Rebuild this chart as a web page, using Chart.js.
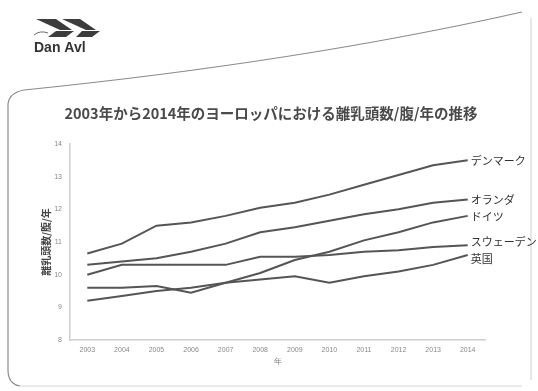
<!DOCTYPE html>
<html>
<head>
<meta charset="utf-8">
<script src="https://cdn.jsdelivr.net/npm/chart.js@4.4.1/dist/chart.umd.min.js"></script>
<style>
  html, body { margin: 0; padding: 0; background: #fff; }
  #wrap { width: 538px; height: 391px; position: relative; }
</style>
</head>
<body>
<div id="wrap"><canvas id="line-chart" width="538" height="391"></canvas></div>
<script>
// dati
var anni = ['2003', '2004', '2005', '2006', '2007', '2008', '2009', '2010', '2011', '2012', '2013', '2014'];
var paesi = ['デンマーク', 'オランダ', 'ドイツ', 'スウェーデン', '英国'];
var danimarca = [10.65, 10.95, 11.5, 11.6, 11.8, 12.05, 12.2, 12.45, 12.75, 13.05, 13.35, 13.5];
var olanda = [10.3, 10.4, 10.5, 10.7, 10.95, 11.3, 11.45, 11.65, 11.85, 12.0, 12.2, 12.3];
var germania = [9.6, 9.6, 9.65, 9.45, 9.75, 10.05, 10.45, 10.7, 11.05, 11.3, 11.6, 11.8];
var svezia = [10.0, 10.3, 10.3, 10.3, 10.3, 10.55, 10.55, 10.6, 10.7, 10.75, 10.85, 10.9];
var regnoUnito = [9.2, 9.35, 9.5, 9.6, 9.75, 9.85, 9.95, 9.75, 9.95, 10.1, 10.3, 10.6];
var titolo = '2003年から2014年のヨーロッパにおける離乳頭数/腹/年の推移';
var titoloY = '離乳頭数/腹/年';
var titoloX = '年';

var serie = [danimarca, olanda, germania, svezia, regnoUnito];
var spostamento = [0, 0, 1, -3, 4];

// sfondo, logo e cornice della slide
var sfondo = {
    id: 'sfondo',
    beforeDraw: function (chart) {
        var ctx = chart.ctx;
        ctx.save();
        ctx.fillStyle = '#fff';
        ctx.fillRect(0, 0, chart.width, chart.height);

        // cornice
        ctx.strokeStyle = '#8c8c8c';
        ctx.lineWidth = 1.2;
        ctx.beginPath();
        ctx.moveTo(20, 386);
        ctx.quadraticCurveTo(8, 384, 8, 370);
        ctx.lineTo(8, 104);
        ctx.quadraticCurveTo(9, 93, 24, 90);
        ctx.quadraticCurveTo(300, 62, 522, 12);
        ctx.stroke();
        ctx.strokeStyle = '#d8d8d8';
        ctx.beginPath();
        ctx.moveTo(20, 386);
        ctx.lineTo(522, 386);
        ctx.moveTo(531, 18);
        ctx.lineTo(531, 380);
        ctx.stroke();

        // logo
        ctx.fillStyle = '#3c3c3c';
        ctx.beginPath();
        ctx.moveTo(36, 19); ctx.lineTo(56, 19); ctx.lineTo(72, 30); ctx.lineTo(60, 30); ctx.closePath();
        ctx.moveTo(62, 19); ctx.lineTo(80, 19); ctx.lineTo(96, 30); ctx.lineTo(86, 30); ctx.closePath();
        ctx.moveTo(56, 31); ctx.lineTo(74, 31); ctx.lineTo(66, 37); ctx.lineTo(48, 37); ctx.closePath();
        ctx.moveTo(82, 31); ctx.lineTo(100, 31); ctx.lineTo(92, 37); ctx.lineTo(76, 37); ctx.closePath();
        ctx.fill();
        ctx.strokeStyle = '#6a6a6a';
        ctx.lineWidth = 1;
        ctx.beginPath();
        ctx.moveTo(34, 35); ctx.quadraticCurveTo(40, 30, 48, 33);
        ctx.stroke();
        ctx.font = 'bold 14px "Liberation Sans", Arial, sans-serif';
        ctx.textBaseline = 'middle';
        ctx.fillStyle = '#333';
        ctx.fillText('Dan Avl', 34, 48);

        // titolo
        ctx.font = 'bold 14.5px "Noto Sans CJK JP", sans-serif';
        ctx.textAlign = 'center';
        ctx.fillStyle = '#4a4a4a';
        ctx.fillText(titolo, 271, 113);
        ctx.restore();
    }
};

// etichette alla fine delle linee
var etichette = {
    id: 'etichette',
    afterDatasetsDraw: function (chart) {
        var ctx = chart.ctx;
        ctx.save();
        ctx.font = '11px "Noto Sans CJK JP", sans-serif';
        ctx.fillStyle = '#333';
        ctx.textBaseline = 'middle';
        chart.data.datasets.forEach(function (ds, i) {
            var meta = chart.getDatasetMeta(i);
            var p = meta.data[meta.data.length - 1];
            ctx.fillText(ds.label, p.x + 3, p.y + spostamento[i]);
        });
        ctx.restore();
    }
};

var ctx = document.getElementById('line-chart');
var chart = new Chart(ctx, {
    type: 'line',
    data: {
        labels: anni,
        datasets: serie.map(function (valori, i) {
            return {
                label: paesi[i],
                data: valori,
                borderColor: '#555',
                borderWidth: 2,
                pointRadius: 0,
                tension: 0,
                fill: false
            };
        })
    },
    options: {
        responsive: false,
        animation: false,
        layout: { padding: { top: 144, left: 36, right: 53, bottom: 21 } },
        plugins: {
            legend: { display: false },
            tooltip: { enabled: false }
        },
        scales: {
            x: {
                offset: true,
                grid: { display: false, drawTicks: false },
                border: { display: true, color: '#cfcfcf', width: 1.5 },
                ticks: { color: '#888', font: { size: 7, family: 'Liberation Sans' }, padding: 6, maxRotation: 0 },
                title: { display: true, text: titoloX, color: '#777', font: { size: 8 }, padding: { top: 2, bottom: 3 } },
                afterFit: function (s) { s.height = 30; }
            },
            y: {
                min: 8,
                max: 14,
                grid: { display: false, drawTicks: false },
                border: { display: true, color: '#cfcfcf', width: 1.5 },
                ticks: { stepSize: 1, color: '#888', font: { size: 7, family: 'Liberation Sans' }, padding: 8 },
                title: { display: true, text: titoloY, color: '#444', font: { size: 10, weight: 'bold', family: '"Noto Sans CJK JP"' }, padding: { top: 4, bottom: 4 } },
                afterFit: function (s) { s.width = 34; }
            }
        }
    },
    plugins: [sfondo, etichette]
});
</script>
</body>
</html>
